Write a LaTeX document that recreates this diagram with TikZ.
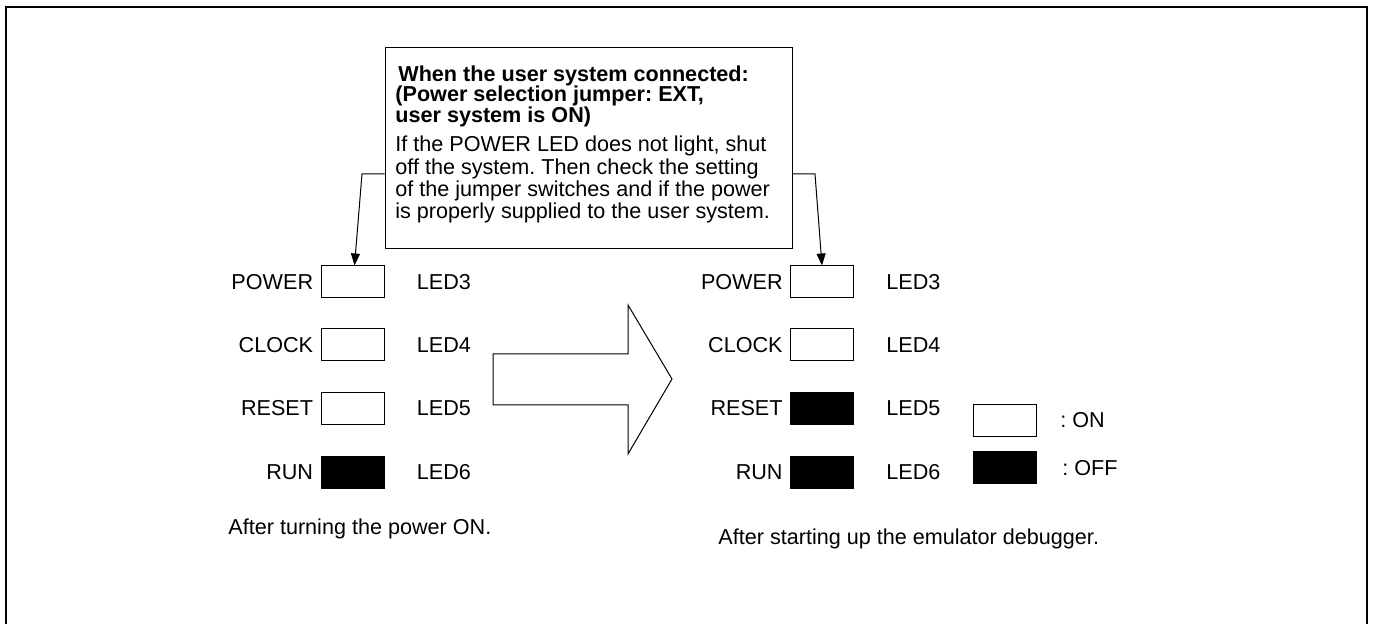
\documentclass[tikz,border=0pt]{standalone}
\usepackage{fontspec}
\setmainfont{Liberation Sans}
\usetikzlibrary{positioning,arrows.meta}
\frenchspacing

\tikzset{
  ledon/.style={draw, line width=0.5pt, fill=white, minimum width=31.5pt, minimum height=16pt, inner sep=0pt},
  ledoff/.style={ledon, fill=black},
  lbl/.style={inner sep=0pt, font=\fontsize{10.8}{13}\selectfont},
  txt/.style={inner sep=0pt, anchor=base west, font=\fontsize{10.8}{13}\selectfont},
  btxt/.style={txt, font=\fontsize{10.8}{13}\selectfont\bfseries},
  pointer/.style={line width=0.5pt, -{Triangle[length=6pt,width=4.5pt]}}
}

\begin{document}
\begin{tikzpicture}[x=0.5pt, y=-0.5pt]
  \useasboundingbox (0,0) rectangle (1373,624);

  % outer frame, open at the bottom
  \draw[line width=1pt] (6,624) -- (6,7) -- (1367,7) -- (1367,624);

  % note box
  \node[draw, line width=0.5pt, minimum width=203.5pt, minimum height=100.5pt, inner sep=0pt] (note) at (588.5,148.5) {};
  \node[btxt] (note1) at (398,82) {When the user system connected:};
  \node[btxt] (note2) at (395,102) {(Power selection jumper: EXT,};
  \node[btxt] (note3) at (395,123) {user system is ON)};
  \node[txt] (note4) at (395,152) {If the POWER LED does not light, shut};
  \node[txt] (note5) at (395,175) {off the system. Then check the setting};
  \node[txt] (note6) at (395,197) {of the jumper switches and if the power};
  \node[txt] (note7) at (395,219) {is properly supplied to the user system.};

  % LEDs after power on
  \node[ledon]  (lpower) at (352.5,282) {};
  \node[ledon]  (lclock) at (352.5,345) {};
  \node[ledon]  (lreset) at (352.5,408.5) {};
  \node[ledoff] (lrun)   at (352.5,472.5) {};

  % LEDs after starting the debugger
  \node[ledon]  (rpower) at (822,282) {};
  \node[ledon]  (rclock) at (822,345) {};
  \node[ledoff] (rreset) at (822,408.5) {};
  \node[ledoff] (rrun)   at (822,472.5) {};

  % names and LED numbers
  \foreach \side in {l,r}{
    \node[lbl, left=3.5pt of \side power] (\side powername) {POWER};
    \node[lbl, left=3.5pt of \side clock] (\side clockname) {CLOCK};
    \node[lbl, left=3.5pt of \side reset] (\side resetname) {RESET};
    \node[lbl, left=3.5pt of \side run]   (\side runname)   {RUN};
    \node[lbl, right=16pt of \side power] (\side ledthree) {LED3};
    \node[lbl, right=16pt of \side clock] (\side ledfour)  {LED4};
    \node[lbl, right=16pt of \side reset] (\side ledfive)  {LED5};
    \node[lbl, right=16pt of \side run]   (\side ledsix)   {LED6};
  }

  % pointers from the note
  \coordinate (lbend) at (362,174);
  \coordinate (rbend) at (815,174);
  \draw[pointer] (note.west |- lbend) -- (lbend) -- ([xshift=1pt]lpower.north);
  \draw[pointer] (note.east |- rbend) -- (rbend) -- (rpower.north);

  % big arrow
  \draw[line width=0.5pt] (493,354) -- (628,354) -- (628,305) -- (672,379)
    -- (628,454) -- (628,405) -- (493,405) -- cycle;

  % legend
  \node[ledon]  (keyon)  at (1005,420.5) {};
  \node[ledoff] (keyoff) at (1005,468) {};
  \node[lbl, right=11.5pt of keyon]  (keyontext)  {: ON};
  \node[lbl, right=12.5pt of keyoff] (keyofftext) {: OFF};

  % captions
  \node[txt] (leftcap)  at (228,535) {After turning the power ON.};
  \node[txt] (rightcap) at (718,545) {After starting up the emulator debugger.};
\end{tikzpicture}
\end{document}
